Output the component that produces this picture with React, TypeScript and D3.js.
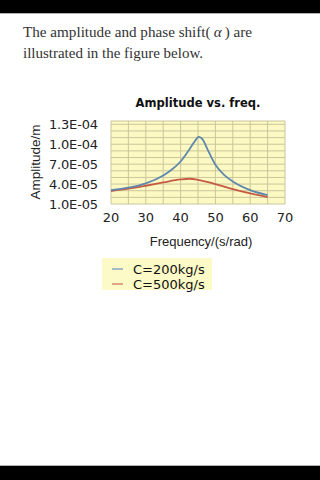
import React from "react";
import * as d3 from "d3";

const freqBlue = [20, 25, 30, 35, 37.5, 40, 42.5, 44, 45.2, 46.5, 47.5, 50, 52.5, 55, 60, 65];
const ampBlue = [3.1e-5, 3.45e-5, 4.1e-5, 5.3e-5, 6.2e-5, 7.4e-5, 9.2e-5, 1.04e-4, 1.11e-4, 1.06e-4, 9.5e-5, 6.9e-5, 5.4e-5, 4.4e-5, 3.1e-5, 2.35e-5];
const freqRed = [20, 25, 30, 35, 40, 42.5, 45, 50, 55, 60, 65];
const ampRed = [2.96e-5, 3.3e-5, 3.75e-5, 4.25e-5, 4.7e-5, 4.8e-5, 4.65e-5, 4.0e-5, 3.25e-5, 2.6e-5, 2.05e-5];
const xTicks = [20, 30, 40, 50, 60, 70];
const yTicks = [1.0e-5, 4.0e-5, 7.0e-5, 1.0e-4, 1.3e-4];
const yTickLabels = ["1.0E-05", "4.0E-05", "7.0E-05", "1.0E-04", "1.3E-04"];
const seriesNames = ["C=200kg/s", "C=500kg/s"];

export default function App() {
  const W = 320, H = 480;
  const x = d3.scaleLinear().domain([20, 70]).range([111, 285]);
  const y = d3.scaleLinear().domain([1.0e-5, 1.35e-4]).range([204, 121]);
  const line = d3.line<[number, number]>().x(d => x(d[0])).y(d => y(d[1])).curve(d3.curveMonotoneX);
  const blue = line(freqBlue.map((f, i) => [f, ampBlue[i]] as [number, number])) || "";
  const red = line(freqRed.map((f, i) => [f, ampRed[i]] as [number, number])) || "";
  const vGrid = d3.range(20, 70.01, 5);
  const hGrid = d3.range(1, 13.5, 1).map(v => v * 1e-5);
  const gridColor = "#cbc69c";
  const blueColor = "#5f88ad";
  const redColor = "#c65a43";
  return (
    <div style={{ position: "fixed", left: 0, top: 0, width: W, height: H, background: "#fff" }}>
      <svg width={W} height={H} style={{ display: "block" }}>
        <rect x={0} y={0} width={W} height={H} fill="#fff" />
        <rect x={0} y={0} width={W} height={13} fill="#000" />
        <rect x={0} y={13} width={W} height={1} fill="#b0b0b0" />
        <rect x={0} y={465} width={W} height={1} fill="#b0b0b0" />
        <rect x={0} y={466} width={W} height={14} fill="#000" />

        <text x={23} y={37} fontFamily="'Liberation Serif', serif" fontSize={15.5} fill="#333" textLength={229} lengthAdjust="spacingAndGlyphs">
          The amplitude and phase shift({"\u2009"}<tspan fontStyle="italic">α</tspan>{"\u2009"}) are
        </text>
        <text x={23} y={58} fontFamily="'Liberation Serif', serif" fontSize={15.5} fill="#333" textLength={180} lengthAdjust="spacingAndGlyphs">
          illustrated in the figure below.
        </text>

        <text x={198} y={107} textAnchor="middle" fontFamily="'DejaVu Sans', sans-serif" fontWeight="bold" fontSize={12.5} fill="#111" textLength={125} lengthAdjust="spacingAndGlyphs">
          Amplitude vs. freq.
        </text>

        <rect x={x(20)} y={121} width={x(70) - x(20)} height={204 - 121} fill="#fcf9c3" />
        {vGrid.map(v => (
          <line key={"v" + v} x1={x(v)} x2={x(v)} y1={121} y2={204} stroke={gridColor} strokeWidth={1} />
        ))}
        {hGrid.map(v => (
          <line key={"h" + v} x1={x(20)} x2={x(70)} y1={y(v)} y2={y(v)} stroke={gridColor} strokeWidth={1} />
        ))}
        <line x1={x(20)} x2={x(70)} y1={121} y2={121} stroke={gridColor} />

        <path d={red} fill="none" stroke={redColor} strokeWidth={1.8} />
        <path d={blue} fill="none" stroke={blueColor} strokeWidth={1.8} />

        {yTicks.map((v, i) => (
          <text key={"yt" + i} x={98} y={y(v) + 5} textAnchor="end" fontFamily="'DejaVu Sans', sans-serif" fontSize={13} fill="#222" textLength={49} lengthAdjust="spacing">
            {yTickLabels[i]}
          </text>
        ))}
        {xTicks.map(v => (
          <text key={"xt" + v} x={x(v)} y={221.5} textAnchor="middle" fontFamily="'DejaVu Sans', sans-serif" fontSize={13} fill="#222">
            {v}
          </text>
        ))}
        <text x={201} y={246} textAnchor="middle" fontFamily="'Liberation Sans', Arial, sans-serif" fontSize={13} fill="#222">
          Frequency/(s/rad)
        </text>
        <text transform="translate(40,162) rotate(-90)" textAnchor="middle" fontFamily="'Liberation Sans', Arial, sans-serif" fontSize={13.5} fill="#222">
          Amplitude/m
        </text>

        <rect x={102} y={258} width={110} height={32} fill="#fcfac6" />
        {seriesNames.map((n, i) => (
          <g key={n}>
            <line x1={112} x2={123} y1={269 + i * 15} y2={269 + i * 15} stroke={i === 0 ? "#8ba6c6" : "#d98a6c"} strokeWidth={1.5} />
            <text x={133} y={273.7 + i * 15} fontFamily="'DejaVu Sans', sans-serif" fontSize={13} fill="#111">
              {n}
            </text>
          </g>
        ))}
      </svg>
    </div>
  );
}
